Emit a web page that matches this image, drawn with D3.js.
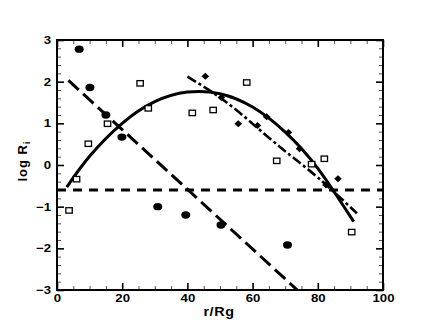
<!DOCTYPE html>
<html>
<head>
<meta charset="utf-8">
<script src="https://cdn.jsdelivr.net/npm/d3@7"></script>
<style>
body { margin: 0; background: #fff; }
text { font-family: "Liberation Sans", Arial, sans-serif; font-weight: bold; fill: #000; }
</style>
</head>
<body>
<div class="content"></div>
<script>
var size = {width: 436, height: 327};
var padding = {left: 57, right: 53, top: 40, bottom: 37};

// measured points
var circlesX = [6.8, 10.1, 15.0, 19.9, 30.9, 39.5, 50.3, 70.7];
var circlesY = [2.78, 1.86, 1.20, 0.67, -1.00, -1.20, -1.44, -1.92];

var squaresX = [3.7, 6.0, 9.6, 15.5, 25.5, 28.0, 41.5, 47.9, 58.2, 67.4, 78.1, 82.0, 90.4];
var squaresY = [-1.09, -0.34, 0.51, 0.99, 1.96, 1.36, 1.25, 1.32, 1.98, 0.10, 0.02, 0.15, -1.61];

var diamondsX = [45.5, 50.4, 55.6, 61.5, 64.3, 71.0, 74.4, 82.5, 86.2];
var diamondsY = [2.13, 1.62, 0.99, 0.95, 1.16, 0.78, 0.39, -0.48, -0.33];

// fitted curves / lines
var fitX = [3, 10, 20, 30, 40, 50, 60, 70, 80, 91];
var fitY = [-0.53, 0.21, 1.00, 1.52, 1.75, 1.71, 1.39, 0.79, -0.08, -1.36];

var dashDotX = [40, 50, 60, 70, 80, 92];
var dashDotY = [2.12, 1.62, 0.99, 0.33, -0.30, -1.16];

var longDashX = [3.5, 73.7];
var longDashY = [2.03, -3.0];

var flatX = [0, 100];
var flatY = [-0.6, -0.6];

var xTicks = [0, 20, 40, 60, 80, 100];
var yTicks = [-3, -2, -1, 0, 1, 2, 3];

function zip(xs, ys) {
    return xs.map(function(d, i) { return [d, ys[i]]; });
}

var chart = d3.select('.content')
    .append('svg')
    .attr('width', size.width)
    .attr('height', size.height);

var xScale = d3.scaleLinear().domain([0, 100])
    .range([padding.left, size.width - padding.right]);
var yScale = d3.scaleLinear().domain([-3, 3])
    .range([size.height - padding.bottom, padding.top]);

chart.append('defs').append('clipPath')
    .attr('id', 'clipper')
    .append('rect')
    .attr('x', padding.left)
    .attr('y', padding.top)
    .attr('width', size.width - padding.left - padding.right)
    .attr('height', size.height - padding.top - padding.bottom);

// minor ticks
var xMinor = d3.range(0, 101, 5).filter(function(d) { return d % 20 != 0; });
var yMinor = d3.range(-30, 31, 2).map(function(d) { return d / 10; })
    .filter(function(d) { return Math.abs(d - Math.round(d)) > 1e-6; });

function addAxis(axis, tr, major) {
    var g = chart.append('g')
        .attr('transform', tr)
        .call(axis);
    g.select('.domain').remove();
    g.selectAll('line').attr('stroke', major ? '#000' : '#555')
        .attr('stroke-width', major ? 1.6 : 1);
    return g;
}
var bottomY = 'translate(0,' + (size.height - padding.bottom) + ')';
var topY = 'translate(0,' + padding.top + ')';
var leftX = 'translate(' + padding.left + ',0)';
var rightX = 'translate(' + (size.width - padding.right) + ',0)';
var fmt = d3.format('d');

addAxis(d3.axisBottom(xScale).tickValues(xMinor).tickSize(-4).tickFormat(''), bottomY, false);
addAxis(d3.axisTop(xScale).tickValues(xMinor).tickSize(-4).tickFormat(''), topY, false);
addAxis(d3.axisLeft(yScale).tickValues(yMinor).tickSize(-4).tickFormat(''), leftX, false);
addAxis(d3.axisRight(yScale).tickValues(yMinor).tickSize(-4).tickFormat(''), rightX, false);

addAxis(d3.axisBottom(xScale).tickValues(xTicks).tickSize(-7).tickPadding(4).tickFormat(fmt), bottomY, true);
addAxis(d3.axisTop(xScale).tickValues(xTicks).tickSize(-7).tickFormat(''), topY, true);
addAxis(d3.axisLeft(yScale).tickValues(yTicks).tickSize(-7).tickPadding(5).tickFormat(fmt), leftX, true);
addAxis(d3.axisRight(yScale).tickValues(yTicks).tickSize(-7).tickFormat(''), rightX, true);

chart.selectAll('.tick text')
    .attr('font-family', '"Liberation Sans", Arial, sans-serif')
    .attr('font-weight', 'bold')
    .attr('font-size', 11)
    .attr('fill', '#000')
    .attr('transform', 'scale(1.2,1)');

// frame
chart.append('rect')
    .attr('x', padding.left)
    .attr('y', padding.top)
    .attr('width', size.width - padding.left - padding.right)
    .attr('height', size.height - padding.top - padding.bottom)
    .attr('fill', 'none')
    .attr('stroke', '#000')
    .attr('stroke-width', 2);

// axis titles
chart.append('text')
    .attr('transform', 'translate(' + (xScale(50) - 1) + ',' + 316 + ') scale(1.2,1)')
    .attr('text-anchor', 'middle')
    .attr('font-size', 12)
    .attr('letter-spacing', 0.5)
    .text('r/Rg');

var ylab = chart.append('text')
    .attr('transform', 'translate(27,' + 161 + ') rotate(-90)')
    .attr('text-anchor', 'middle')
    .attr('font-size', 13)
    .attr('letter-spacing', 1);
ylab.append('tspan').text('log R');
ylab.append('tspan').attr('font-size', 9).attr('dy', 3).text('i');

var plot = chart.append('g').attr('clip-path', 'url(#clipper)');

var line = d3.line()
    .x(function(d) { return xScale(d[0]); })
    .y(function(d) { return yScale(d[1]); });
var smooth = d3.line()
    .curve(d3.curveNatural)
    .x(function(d) { return xScale(d[0]); })
    .y(function(d) { return yScale(d[1]); });

plot.append('path').datum(zip(flatX, flatY))
    .attr('d', line).attr('fill', 'none').attr('stroke', '#000')
    .attr('stroke-width', 3).attr('stroke-dasharray', '9,7');

plot.append('path').datum(zip(longDashX, longDashY))
    .attr('d', line).attr('fill', 'none').attr('stroke', '#000')
    .attr('stroke-width', 3).attr('stroke-dasharray', '14,6');

plot.append('path').datum(zip(dashDotX, dashDotY))
    .attr('d', smooth).attr('fill', 'none').attr('stroke', '#000')
    .attr('stroke-width', 2.6).attr('stroke-dasharray', '10,3,3,3');

plot.append('path').datum(zip(fitX, fitY))
    .attr('d', smooth).attr('fill', 'none').attr('stroke', '#000')
    .attr('stroke-width', 3);

// markers
plot.selectAll('rect.sq').data(zip(squaresX, squaresY))
    .enter().append('rect')
    .attr('class', 'sq')
    .attr('x', function(d) { return xScale(d[0]) - 3.2; })
    .attr('y', function(d) { return yScale(d[1]) - 2.7; })
    .attr('width', 6.4)
    .attr('height', 5.4)
    .attr('fill', '#fff')
    .attr('stroke', '#000')
    .attr('stroke-width', 1.3);

plot.selectAll('ellipse.dot').data(zip(circlesX, circlesY))
    .enter().append('ellipse')
    .attr('class', 'dot')
    .attr('cx', function(d) { return xScale(d[0]); })
    .attr('cy', function(d) { return yScale(d[1]); })
    .attr('rx', 4.5)
    .attr('ry', 3.7)
    .attr('fill', '#000');

plot.selectAll('path.dia').data(zip(diamondsX, diamondsY))
    .enter().append('path')
    .attr('class', 'dia')
    .attr('d', function(d) {
        var cx = xScale(d[0]), cy = yScale(d[1]);
        return 'M' + (cx - 3.8) + ',' + cy + 'L' + cx + ',' + (cy - 3.5) +
            'L' + (cx + 3.8) + ',' + cy + 'L' + cx + ',' + (cy + 3.5) + 'Z';
    })
    .attr('fill', '#000');
</script>
</body>
</html>
